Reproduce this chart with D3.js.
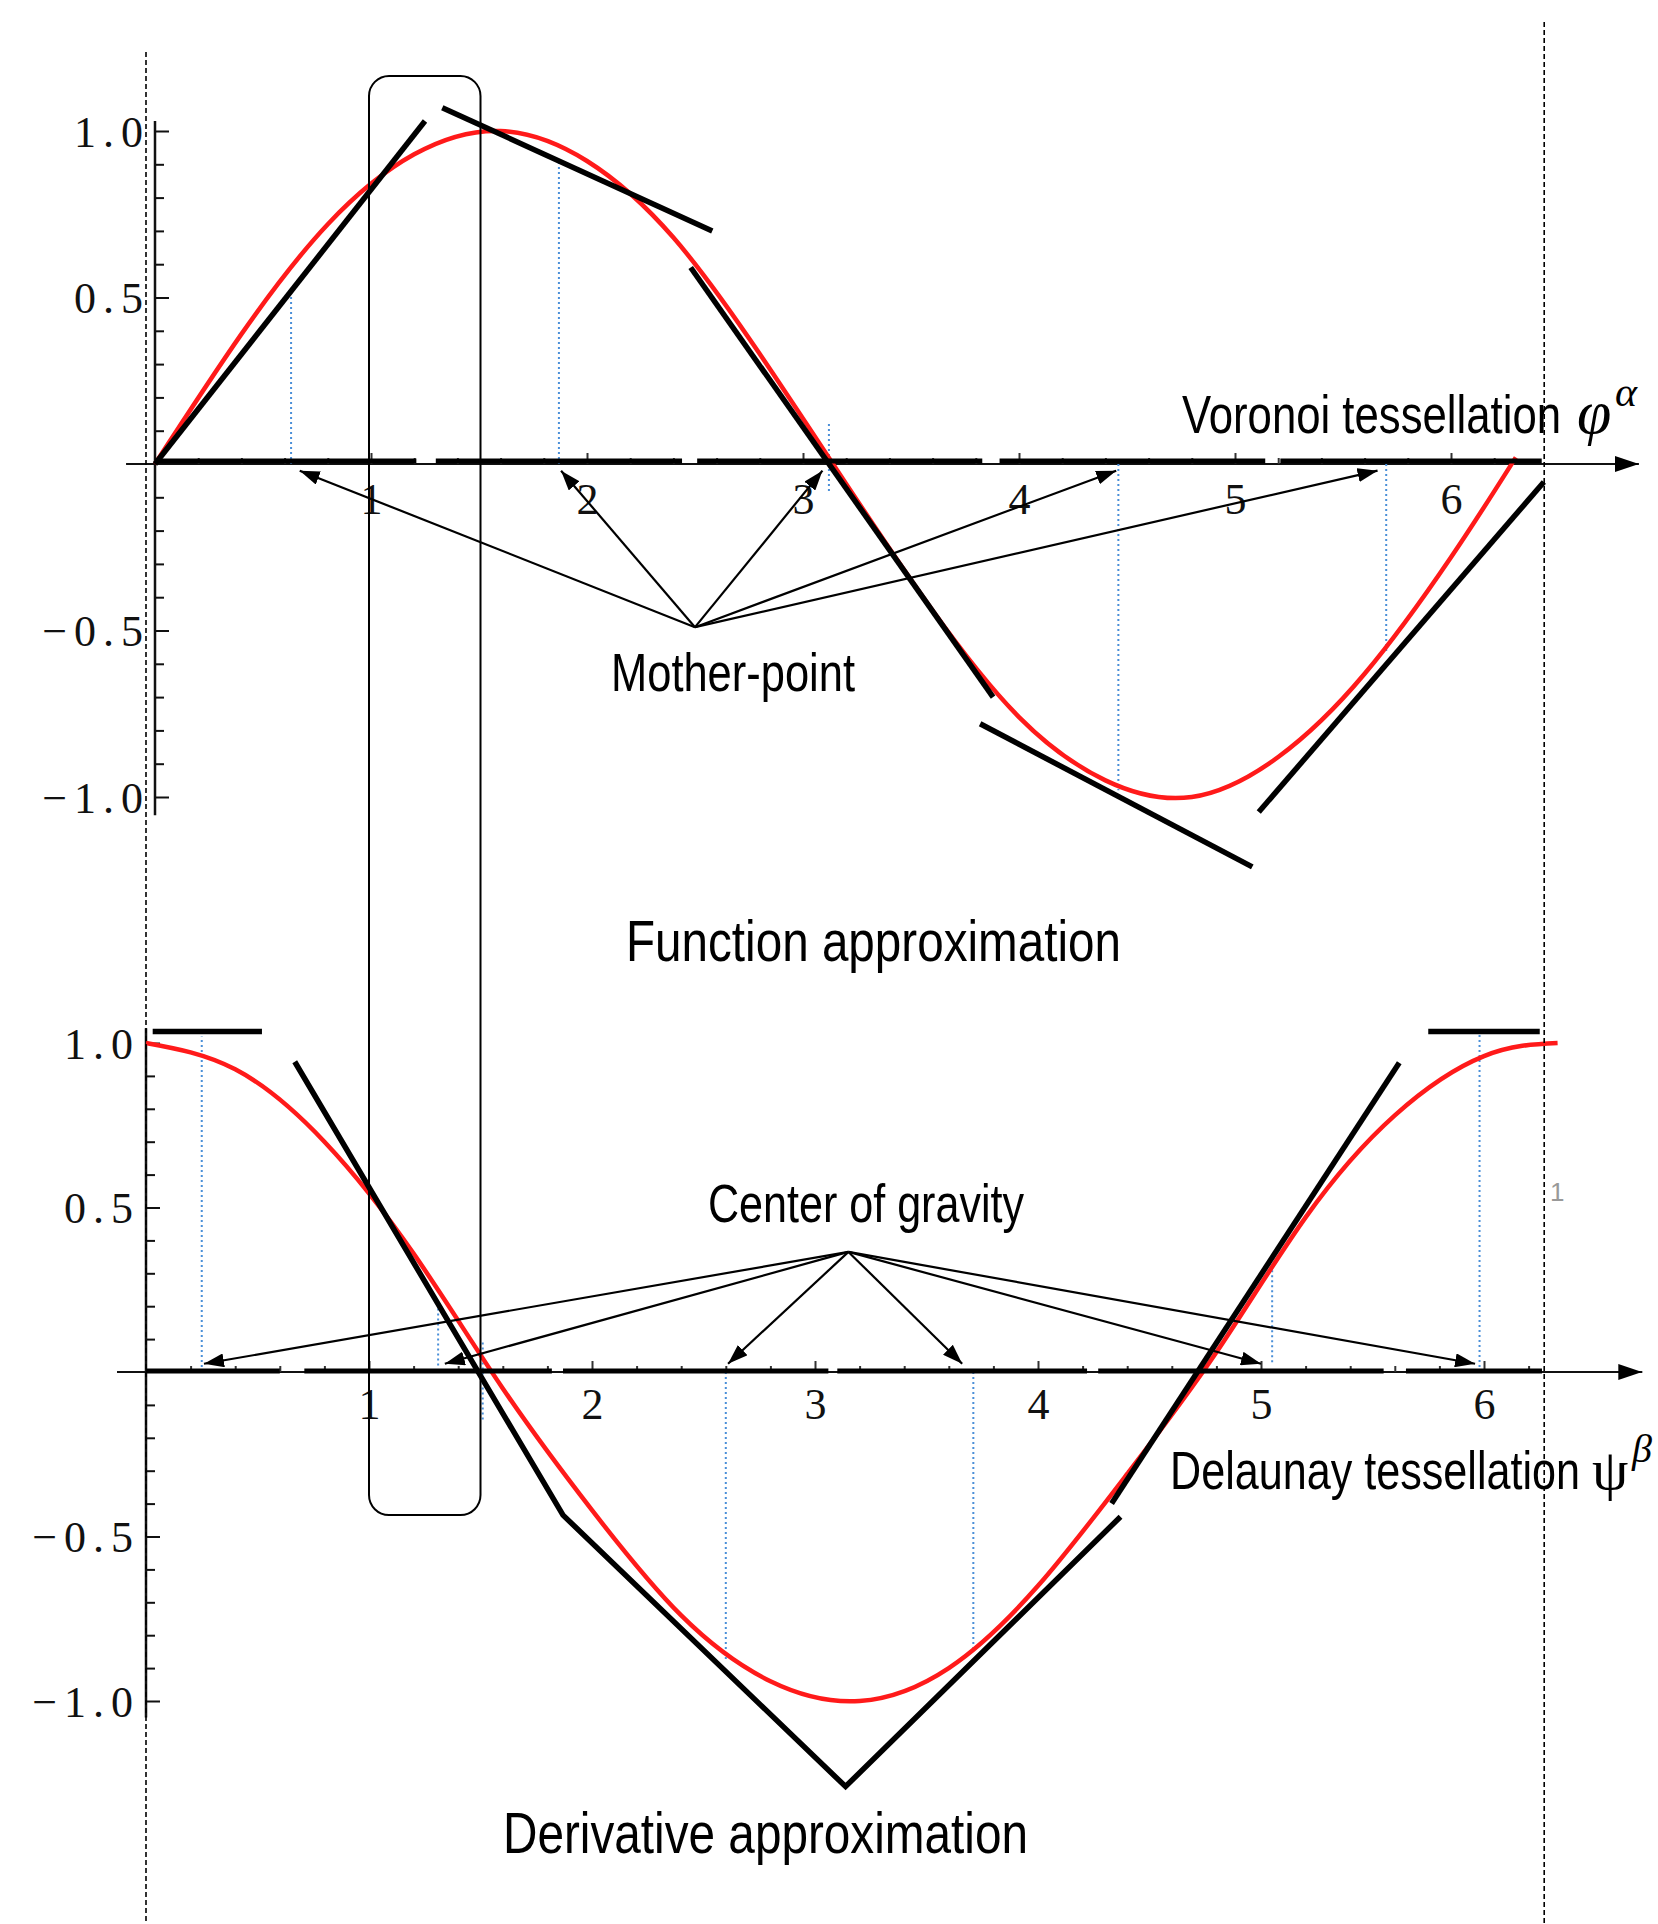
<!DOCTYPE html>
<html>
<head>
<meta charset="utf-8">
<title>Voronoi / Delaunay approximation</title>
<style>
  body { margin: 0; background: #fff; }
  svg { display: block; }
  .narrow { font-family: "Liberation Sans", Arial, sans-serif; fill: #000; }
  .greek { font-family: "Liberation Serif", "DejaVu Serif", serif; fill: #000; }
</style>
</head>
<body>
<div id="chart"></div>
<script src="https://cdn.jsdelivr.net/npm/d3@7"></script>
<script>
var width = 1658, height = 1924;
var TWO_PI = 2 * Math.PI;

// tick labels
var xTickValues = [1, 2, 3, 4, 5, 6];
var yTickValues = [-1, -0.5, 0.5, 1];

// top panel: the function (red)
var funcX = [0, 0.4, 0.8, 1.2, 1.6, 2.0, 2.4, 2.8, 3.2, 3.6, 4.0, 4.4, 4.8, 5.2, 5.6, 6.0, 6.3];
var funcY = [0, 0.39, 0.72, 0.93, 1.0, 0.91, 0.68, 0.33, -0.06, -0.44, -0.76, -0.95, -1.0, -0.88, -0.63, -0.28, 0.02];

// Voronoi cells on the axis, mother points and the linear pieces
var voronoiCells = [[0, 1.21], [1.30, 2.44], [2.51, 3.83], [3.91, 5.14], [5.21, 6.42]];
var motherPoints = [0.67, 1.88, 3.09, 4.45, 5.66];
var motherSource = [2.50, -0.49];
var motherDrops = [[0.63, 0, 0.52], [1.87, 0, 0.91], [3.12, 0.12, -0.09], [4.46, 0, -0.98], [5.70, 0, -0.57]];
var funcLines = [
  [[0, 0], [1.25, 1.03]],
  [[1.33, 1.07], [2.58, 0.70]],
  [[2.48, 0.59], [3.88, -0.70]],
  [[3.82, -0.78], [5.08, -1.21]],
  [[5.11, -1.045], [6.43, -0.054]]
];

// bottom panel: the derivative (red)
var derivX = [0, 0.4, 0.8, 1.2, 1.6, 2.0, 2.4, 2.8, 3.2, 3.6, 4.0, 4.4, 4.8, 5.2, 5.6, 6.0, 6.33];
var derivY = [1.0, 0.92, 0.70, 0.36, -0.05, -0.42, -0.74, -0.94, -1.0, -0.90, -0.65, -0.31, 0.06, 0.47, 0.78, 0.96, 1.0];

// Delaunay cells, centres of gravity and the piecewise derivative
var delaunayCells = [[0, 0.60], [0.71, 1.82], [1.87, 3.06], [3.10, 4.22], [4.27, 5.55], [5.65, 6.26]];
var gravityPoints = [0.26, 1.34, 2.61, 3.66, 5.00, 5.96];
var gravitySource = [3.15, 0.365];
var gravityDrops = [[0.25, 0, 1.02], [1.31, 0.02, 0.20], [1.51, 0.09, -0.15], [2.60, 0, -0.88], [3.71, 0, -0.85], [5.05, 0.03, 0.33], [5.98, 0, 1.03]];
var derivLines = [
  [[0.03, 1.035], [0.52, 1.035]],
  [[5.75, 1.035], [6.25, 1.035]],
  [[0.667, 0.943], [1.87, -0.435], [3.137, -1.26], [4.37, -0.44]],
  [[4.33, -0.40], [5.62, 0.94]]
];

var xTop = d3.scaleLinear().domain([0, TWO_PI]).range([155, 155 + 216 * TWO_PI]);
var yTop = d3.scaleLinear().domain([-1, 1]).range([797, 131]);
var xBot = d3.scaleLinear().domain([0, TWO_PI]).range([146, 146 + 223 * TWO_PI]);
var yBot = d3.scaleLinear().domain([-1, 1]).range([1701, 1043]);

var svg = d3.select('#chart').append('svg')
  .attr('width', width)
  .attr('height', height);

var defs = svg.append('defs');
defs.append('marker').attr('id', 'head')
  .attr('markerUnits', 'userSpaceOnUse')
  .attr('viewBox', '0 0 20 14').attr('markerWidth', 20).attr('markerHeight', 14)
  .attr('refX', 20).attr('refY', 7).attr('orient', 'auto')
  .append('path').attr('d', 'M0,0L20,7L0,14z').attr('fill', '#000');
defs.append('marker').attr('id', 'axisHead')
  .attr('markerUnits', 'userSpaceOnUse')
  .attr('viewBox', '0 0 24 16').attr('markerWidth', 24).attr('markerHeight', 16)
  .attr('refX', 24).attr('refY', 8).attr('orient', 'auto')
  .append('path').attr('d', 'M0,0L24,8L0,16z').attr('fill', '#000');

function yAxis(y, x0, ext, labelX) {
  var g = svg.append('g').attr('transform', 'translate(' + x0 + ',0)');
  g.append('line').attr('y1', y(ext[1])).attr('y2', y(ext[0]))
    .attr('stroke', '#111').attr('stroke-width', 2.5);
  var minor = d3.range(-10, 11).filter(function(i) { return i % 5 !== 0; })
    .map(function(i) { return i / 10; });
  g.append('g').call(d3.axisRight(y).tickValues(minor).tickSize(9).tickFormat(''));
  var gM = g.append('g').call(d3.axisRight(y).tickValues(yTickValues).tickSize(14)
    .tickFormat(d3.format('.1f')));
  g.selectAll('.domain').remove();
  g.selectAll('.tick line').attr('stroke', '#111').attr('stroke-width', 2);
  gM.attr('font-family', '"Liberation Serif", "DejaVu Serif", serif').attr('font-size', 44);
  gM.selectAll('text').attr('x', labelX).attr('text-anchor', 'end').attr('dy', '0.35em')
    .attr('fill', '#111').style('letter-spacing', '7px');
}

function xAxis(x, y0, ext, pad) {
  var g = svg.append('g').attr('transform', 'translate(0,' + y0 + ')');
  g.append('line').attr('x1', x(ext[0])).attr('x2', x(ext[1]))
    .attr('stroke', '#111').attr('stroke-width', 2).attr('marker-end', 'url(#axisHead)');
  var minor = d3.range(1, 32).filter(function(i) { return i % 5 !== 0; })
    .map(function(i) { return i / 5; });
  g.append('g').call(d3.axisBottom(x).tickValues(minor).tickSize(-6).tickFormat(''));
  var gM = g.append('g').call(d3.axisBottom(x).tickValues(xTickValues).tickSize(-11)
    .tickPadding(pad).tickFormat(d3.format('d')));
  g.selectAll('.domain').remove();
  g.selectAll('.tick line').attr('stroke', '#333').attr('stroke-width', 2);
  gM.attr('font-family', '"Liberation Serif", "DejaVu Serif", serif').attr('font-size', 44);
  gM.selectAll('text').attr('fill', '#111');
}

function drops(data, x, y) {
  svg.append('g').selectAll('line').data(data).enter().append('line')
    .attr('x1', function(d) { return x(d[0]); })
    .attr('x2', function(d) { return x(d[0]); })
    .attr('y1', function(d) { return y(d[1]); })
    .attr('y2', function(d) { return y(d[2]); })
    .attr('stroke', '#4a8fd8').attr('stroke-width', 2).attr('stroke-dasharray', '2,3');
}

function curve(xs, ys, x, y) {
  var line = d3.line().curve(d3.curveNatural)
    .x(function(d, i) { return x(xs[i]); })
    .y(function(d, i) { return y(ys[i]); });
  svg.append('path').attr('d', line(xs)).attr('fill', 'none')
    .attr('stroke', '#ff1a1a').attr('stroke-width', 4.5);
}

function pieces(data, x, y) {
  var line = d3.line().x(function(d) { return x(d[0]); }).y(function(d) { return y(d[1]); });
  svg.append('g').selectAll('path').data(data).enter().append('path')
    .attr('d', line).attr('fill', 'none')
    .attr('stroke', '#000').attr('stroke-width', 5.5).attr('stroke-linejoin', 'miter');
}

function cells(data, x, yPix) {
  svg.append('g').selectAll('line').data(data).enter().append('line')
    .attr('x1', function(d) { return x(d[0]); })
    .attr('x2', function(d) { return x(d[1]); })
    .attr('y1', yPix).attr('y2', yPix)
    .attr('stroke', '#000').attr('stroke-width', 5);
}

function arrows(src, targets, ty, x, y) {
  svg.append('g').selectAll('line').data(targets).enter().append('line')
    .attr('x1', x(src[0])).attr('y1', y(src[1]))
    .attr('x2', function(d) { return x(d); })
    .attr('y2', y(ty))
    .attr('stroke', '#000').attr('stroke-width', 2.2).attr('marker-end', 'url(#head)');
}

function label(txt, x, y, len, size) {
  svg.append('text').attr('class', 'narrow')
    .attr('x', x).attr('y', y).attr('font-size', size)
    .attr('textLength', len).attr('lengthAdjust', 'spacingAndGlyphs')
    .text(txt);
}

// ---- top panel ----
yAxis(yTop, xTop(0), [-1.055, 1.03], -5);
xAxis(xTop, yTop(0), [-0.134, 6.87], 19);
drops(motherDrops, xTop, yTop);
curve(funcX, funcY, xTop, yTop);
cells(voronoiCells, xTop, yTop(0) - 3);
pieces(funcLines, xTop, yTop);
arrows(motherSource, motherPoints, -0.02, xTop, yTop);

// ---- bottom panel ----
yAxis(yBot, xBot(0), [-1.05, 1.045], -6);
xAxis(xBot, yBot(0), [-0.13, 6.71], 16);
drops(gravityDrops, xBot, yBot);
curve(derivX, derivY, xBot, yBot);
cells(delaunayCells, xBot, yBot(0) - 1);
pieces(derivLines, xBot, yBot);
arrows(gravitySource, gravityPoints, 0.025, xBot, yBot);

// dashed guides
[[0, 52], [6.27, 22]].forEach(function(d) {
  svg.append('line').attr('x1', xBot(d[0])).attr('x2', xBot(d[0]))
    .attr('y1', d[1]).attr('y2', height)
    .attr('stroke', '#000').attr('stroke-width', 1.6).attr('stroke-dasharray', '5,3');
});

// highlighted column
svg.append('rect')
  .attr('x', xBot(1.0)).attr('width', xBot(1.5) - xBot(1.0))
  .attr('y', yTop(1.165)).attr('height', yBot(-0.435) - yTop(1.165))
  .attr('rx', 20).attr('ry', 20)
  .attr('fill', 'none').attr('stroke', '#000').attr('stroke-width', 2);

// labels
label('Voronoi tessellation', 1182, 433, 379, 54);
svg.append('text').attr('class', 'greek').attr('x', 1577).attr('y', 433)
  .attr('font-style', 'italic').attr('font-size', 62).text('\u03c6');
svg.append('text').attr('class', 'greek').attr('x', 1615).attr('y', 406)
  .attr('font-style', 'italic').attr('font-size', 42).text('\u03b1');

label('Mother-point', 611, 691, 244, 54);
label('Function approximation', 626, 961, 495, 57);
label('Center of gravity', 708, 1222, 316, 54);

label('Delaunay tessellation', 1170, 1489, 410, 54);
svg.append('text').attr('class', 'greek').attr('x', 1592).attr('y', 1489)
  .attr('font-size', 58).text('\u03c8');
svg.append('text').attr('class', 'greek').attr('x', 1632).attr('y', 1462)
  .attr('font-style', 'italic').attr('font-size', 40).text('\u03b2');

label('Derivative approximation', 503, 1853, 525, 57);

svg.append('text').attr('x', 1550).attr('y', 1201)
  .attr('font-family', '"Liberation Sans", sans-serif').attr('font-size', 26)
  .attr('fill', '#999').text('1');
</script>
</body>
</html>
